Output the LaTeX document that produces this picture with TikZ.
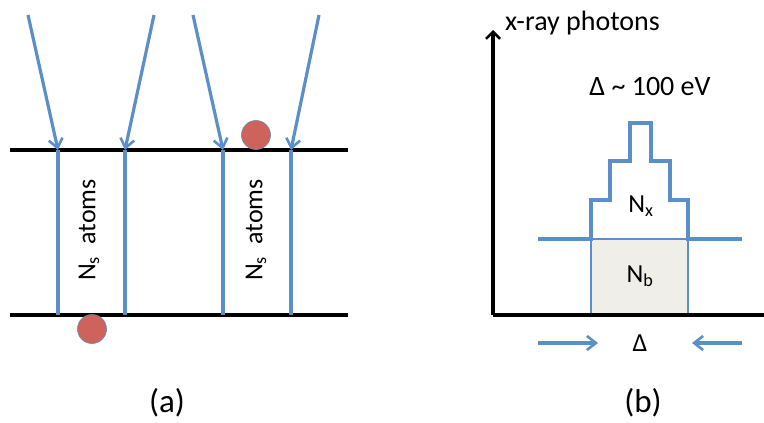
\documentclass[tikz,border=0pt]{standalone}
\usepackage{fontspec}
\setmainfont{Carlito}
\usetikzlibrary{arrows.meta, positioning}
\definecolor{beamblue}{HTML}{5B8FC9}
\definecolor{atomred}{HTML}{CD635B}
\definecolor{binfill}{HTML}{EFEEE8}

\begin{document}
\begin{tikzpicture}[
    x=1pt, y=-1pt,
    % ── Styles ───────────────────────────────────────────────────────────
    surface/.style={draw=black, line width=3.8pt},
    beam/.style={draw=beamblue, line width=3.2pt,
        -{Straight Barb[length=9pt, width=14pt, line width=2.6pt]}},
    wall/.style={draw=beamblue, line width=3.2pt},
    atom/.style={circle, fill=atomred, draw=beamblue!70!gray,
        line width=0.6pt, minimum size=29pt, inner sep=0pt},
    axisline/.style={draw=black, line width=3.8pt},
    axisarr/.style={axisline, -{Straight Barb[length=7pt, width=14pt, line width=2.6pt]}},
    binbox/.style={fill=binfill, draw=beamblue, line width=1.2pt},
    label/.style={font=\fontsize{28}{32}\selectfont, inner sep=0pt},
    small/.style={font=\fontsize{26}{30}\selectfont, inner sep=0pt},
    caption/.style={font=\fontsize{33}{38}\selectfont, inner sep=0pt}
]
\useasboundingbox (0,0) rectangle (764,423);

% ═══════════════════════════════════════════════════════════════════════
% (a) — Layer between two surfaces
% ═══════════════════════════════════════════════════════════════════════
\coordinate (topL) at (10,150);
\coordinate (topR) at (348,150);
\coordinate (botL) at (10,315);
\coordinate (botR) at (348,315);
\draw[surface] (topL) -- (topR);
\draw[surface] (botL) -- (botR);

% incoming beams
\foreach \name/\sx/\ex in {b1/28/58, b2/154/125, b3/193/223, b4/319/291} {
    \coordinate (\name-src) at (\sx,15);
    \coordinate (\name-hit) at (\ex,150);
    \coordinate (\name-out) at (\ex,315);
    \draw[beam] (\name-src) -- (\name-hit);
    \draw[wall] (\name-hit) -- (\name-out);
}

\node[small, rotate=90] (nsleft) at (89,230) {N\textsubscript{s}\hspace{6pt} atoms};
\node[small, rotate=90] (nsright) at (256,230) {N\textsubscript{s}\hspace{6pt} atoms};

\node[atom] (atomtop) at (256,135) {};
\node[atom] (atombot) at (92,329) {};

\node[caption] (capa) at (167,403) {(a)};

% ═══════════════════════════════════════════════════════════════════════
% (b) — Spectrum
% ═══════════════════════════════════════════════════════════════════════
\coordinate (origin) at (493,315);
\coordinate (ytop) at (493,30);
\coordinate (xend) at (764,315);

\draw[binbox] (591,239) rectangle (688,315);
\draw[axisline] (origin) -- (xend);
\draw[axisarr] (origin) -- (ytop);

\node[label, anchor=west] (ylabel) at (505,23) {x-ray photons};
\node[label] (width) at (650,87) {Δ \textasciitilde{} 100 eV};

% stepped line peak
\draw[wall] (538,239) -- (591,239) -- (591,200) -- (610,200)
    -- (610,161) -- (630,161) -- (630,123) -- (651,123) -- (651,161)
    -- (670,161) -- (670,200) -- (688,200) -- (688,239) -- (742,239);

\node[small] (nx) at (641,206) {N\textsubscript{x}};
\node[small] (nb) at (640,276) {N\textsubscript{b}};

\node[small] (delta) at (640,343) {Δ};
\coordinate (leftin) at (538,343);
\coordinate (rightin) at (742,343);
\draw[beam] (leftin) -- (598,343);
\draw[beam] (rightin) -- (692,343);

\node[caption] (capb) at (643,403) {(b)};

\end{tikzpicture}
\end{document}
